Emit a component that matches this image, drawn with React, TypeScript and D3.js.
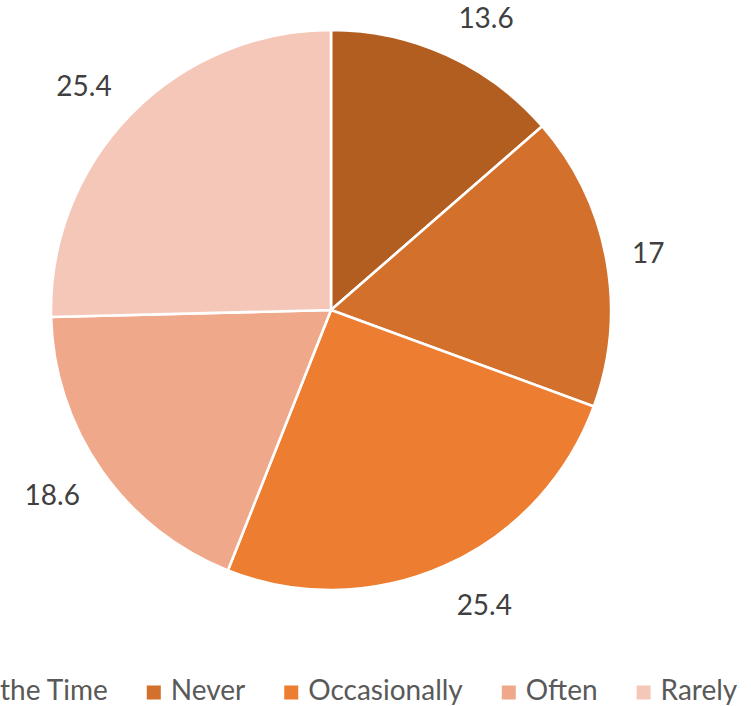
import React, { useEffect, useRef } from "react";
import * as d3 from "d3";

const categories = ["All of the Time", "Never", "Occasionally", "Often", "Rarely"];
const values = [13.6, 17, 25.4, 18.6, 25.4];
const labels = ["13.6", "17", "25.4", "18.6", "25.4"];
const colors = ["#B35E21", "#D2702C", "#ED7D31", "#F0A88A", "#F4C7B8"];

const W = 751;
const H = 706;
const CX = 331;
const CY = 310;
const R = 280;
const FONT = "Lato, 'Open Sans', sans-serif";

export default function App() {
  const ref = useRef<SVGSVGElement | null>(null);

  useEffect(() => {
    const svg = d3.select(ref.current);
    svg.selectAll("*").remove();

    const pie = d3.pie<number>().sort(null).value((d) => d);
    const arcs = pie(values);
    const arc = d3.arc<d3.PieArcDatum<number>>().innerRadius(0).outerRadius(R);

    const g = svg.append("g").attr("transform", `translate(${CX},${CY})`);
    g.selectAll("path")
      .data(arcs)
      .join("path")
      .attr("d", arc as any)
      .attr("fill", (_d, i) => colors[i])
      .attr("stroke", "#ffffff")
      .attr("stroke-width", 2.6)
      .attr("stroke-linejoin", "round");

    // outside-end labels
    const D = R + 25;
    const hh = 17;
    arcs.forEach((a, i) => {
      const mid = (a.startAngle + a.endAngle) / 2;
      const sx = Math.sin(mid);
      const sy = -Math.cos(mid);
      const t = g
        .append("text")
        .text(labels[i])
        .attr("font-family", FONT)
        .attr("font-size", 28)
        .attr("fill", "#404040")
        .attr("text-anchor", "middle")
        .attr("dominant-baseline", "central");
      const w = (t.node() as SVGTextElement).getComputedTextLength();
      const hw = w / 2 + 1;
      const x = D * sx + hw * Math.sign(sx);
      const y = D * sy + hh * sy;
      t.attr("x", x).attr("y", y);
    });

    // legend
    const lg = svg.append("g");
    const marker = 14;
    const gapMT = 10;
    const gapItem = 39;
    const baseline = 700;
    const items: { g: any; w: number }[] = [];
    categories.forEach((c, i) => {
      const ig = lg.append("g");
      ig.append("rect")
        .attr("x", 0)
        .attr("y", 685.5)
        .attr("width", marker)
        .attr("height", marker)
        .attr("fill", colors[i]);
      const t = ig
        .append("text")
        .text(c)
        .attr("x", marker + gapMT)
        .attr("y", baseline)
        .attr("font-family", FONT)
        .attr("font-size", 28)
        .attr("fill", "#595959");
      const tw = (t.node() as SVGTextElement).getComputedTextLength();
      items.push({ g: ig, w: marker + gapMT + tw });
    });
    const total = items.reduce((s, it) => s + it.w, 0) + gapItem * (items.length - 1);
    let x0 = CX - total / 2 - 10;
    items.forEach((it) => {
      it.g.attr("transform", `translate(${x0},0)`);
      x0 += it.w + gapItem;
    });
  }, []);

  return (
    <svg
      ref={ref}
      width={W}
      height={H}
      style={{ position: "absolute", left: 0, top: 0, background: "#ffffff" }}
    />
  );
}
